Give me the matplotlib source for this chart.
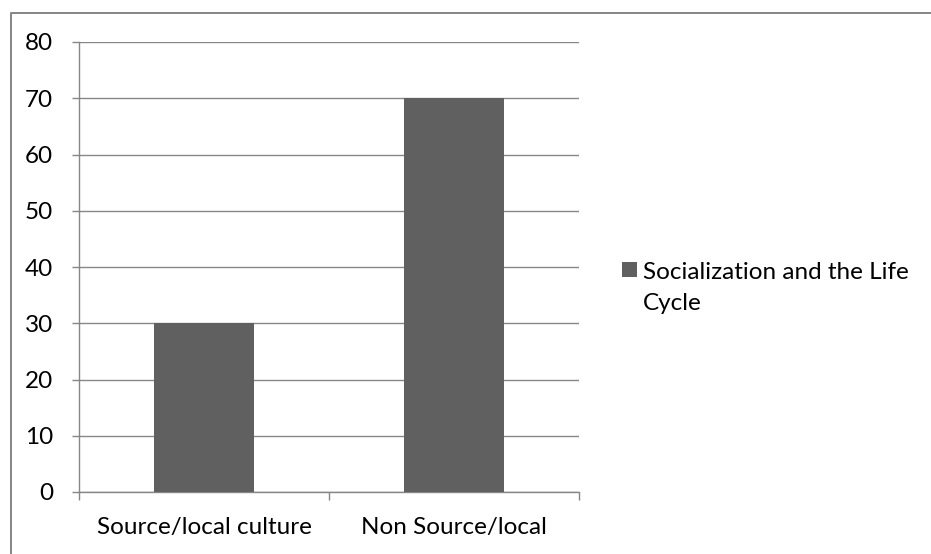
import matplotlib
matplotlib.use("Agg")
import matplotlib.pyplot as plt
from matplotlib.lines import Line2D
from matplotlib.patches import Rectangle

categories = ["Source/local culture", "Non Source/local"]
values = [30, 70]
series_name = "Socialization and the Life\nCycle"
y_ticks = [0, 10, 20, 30, 40, 50, 60, 70, 80]

W, H = 931, 554
DPI = 100
PT = 72 / DPI  # points per pixel
BAR_COLOR = "#606060"
GRID_COLOR = "#878787"
TEXT_COLOR = "#000000"
FONT_SIZE = 17.5

plt.rcParams["font.family"] = ["Lato", "DejaVu Sans"]

fig = plt.figure(figsize=(W / DPI, H / DPI), dpi=DPI)

def px(x0, y0, x1, y1):
    return [x0 / W, 1 - y1 / H, (x1 - x0) / W, (y1 - y0) / H]

ax = fig.add_axes(px(79, 42, 579, 492))
x = list(range(len(categories)))
ax.bar(x, values, width=0.4, color=BAR_COLOR, zorder=3)

ax.set_xlim(-0.5, len(categories) - 0.5)
ax.set_ylim(0, 80)
ax.set_yticks(y_ticks)
ax.set_yticklabels([str(v) for v in y_ticks])
ax.yaxis.grid(True, color=GRID_COLOR, linewidth=1.4 * PT, zorder=0)
ax.set_axisbelow(True)

ax.set_xticks(x)
ax.set_xticklabels(categories)
ax.set_xticks([i - 0.5 for i in range(len(categories) + 1)], minor=True)
ax.tick_params(axis="x", which="major", length=0, pad=25 * PT,
               labelsize=FONT_SIZE, labelcolor=TEXT_COLOR)
ax.tick_params(axis="x", which="minor", length=8 * PT, width=1.4 * PT, color=GRID_COLOR)
ax.tick_params(axis="y", length=7 * PT, width=1.4 * PT, color=GRID_COLOR, pad=19 * PT,
               labelsize=FONT_SIZE, labelcolor=TEXT_COLOR)

for side in ("top", "right"):
    ax.spines[side].set_visible(False)
for side in ("left", "bottom"):
    ax.spines[side].set_color(GRID_COLOR)
    ax.spines[side].set_linewidth(1.4 * PT)

# Outer chart frame (left and top edges)
fig.add_artist(Line2D([11 / W, 11 / W, 1.0], [0.0, 1 - 12.5 / H, 1 - 12.5 / H],
                      color="#888888", linewidth=2 * PT, transform=fig.transFigure))

# Legend entry
fig.add_artist(Rectangle((622 / W, 1 - 277 / H), 15 / W, 15 / H,
                         facecolor=BAR_COLOR, edgecolor="none", transform=fig.transFigure))
fig.text(643 / W, 1 - 310 / H, series_name, fontsize=FONT_SIZE, color=TEXT_COLOR,
         ha="left", va="baseline", linespacing=1.6)

fig.savefig("out.png", dpi=DPI)
